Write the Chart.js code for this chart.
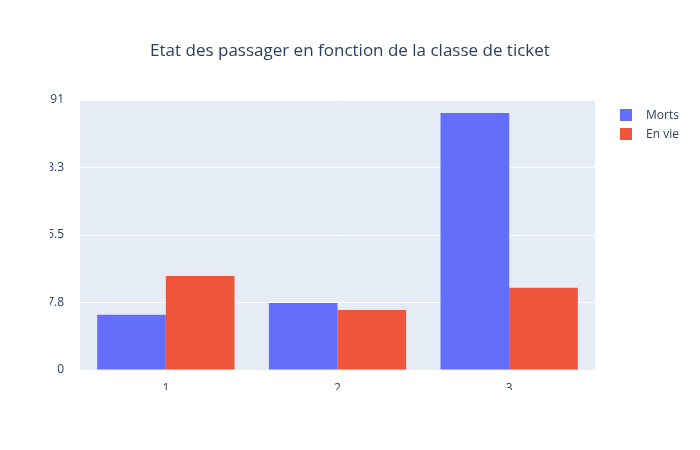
<!DOCTYPE html>
<html><head><meta charset="utf-8">
<script src="https://cdn.jsdelivr.net/npm/chart.js@4"></script>
<style>
body{margin:0;font-family:"Open Sans",sans-serif;}
#wrap{position:relative;width:700px;height:450px;background:#fff;}
#title{position:absolute;top:38px;left:0;width:700px;text-align:center;font-size:17px;color:#2a3f5f;}
#legend{position:absolute;left:620px;top:105px;font-size:12px;color:#2a3f5f;}
.item{display:flex;align-items:center;height:19px;}
.sw{width:12px;height:12px;margin-right:14px;}
</style></head><body>
<div id="wrap">
<canvas id="c" width="700" height="450"></canvas>
<div id="title">Etat des passager en fonction de la classe de ticket</div>
<div id="legend">
<div class="item"><div class="sw" style="background:#636efa"></div>Morts</div>
<div class="item"><div class="sw" style="background:#EF553B"></div>En vie</div>
</div>
</div>
<script>
const categories = ["1","2","3"];
const morts = [80, 97, 372];
const enVie = [136, 87, 119];
const bg = {id:'bg',beforeDraw(ch){const a=ch.chartArea,c=ch.ctx;c.save();c.fillStyle='#E5ECF6';c.fillRect(a.left,a.top,a.width,a.height);c.restore();}};
new Chart(document.getElementById('c'),{
type:'bar',
data:{labels:categories,datasets:[
{label:'Morts',data:morts,backgroundColor:'#636efa'},
{label:'En vie',data:enVie,backgroundColor:'#EF553B'}]},
options:{responsive:false,animation:false,
layout:{padding:{left:50,right:105,top:100,bottom:60}},
datasets:{bar:{categoryPercentage:0.8,barPercentage:1}},
plugins:{legend:{display:false},tooltip:{enabled:false}},
scales:{
x:{grid:{display:false},border:{display:false},ticks:{color:'#2a3f5f',font:{family:'Open Sans',size:12}},afterFit(s){s.height=20;}},
y:{min:0,max:391,grid:{color:'#fff',lineWidth:1},border:{display:false},
ticks:{stepSize:100,color:'#2a3f5f',font:{family:'Open Sans',size:12},padding:8},afterFit(s){s.width=30;}}
}},
plugins:[bg]});
</script>
</body></html>
